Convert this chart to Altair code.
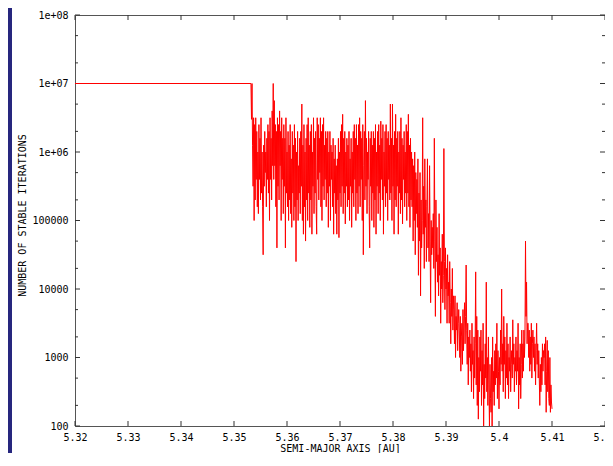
import altair as alt
import pandas as pd

# ---- data ----
# flat start (stable for the whole run) and the first drop
flat_a = [5.32, 5.3532, 5.3533, 5.3534]
flat_n = [1e7, 1e7, 3e6, 1e7]

# noisy part: semi-major axis grid 5.3535 .. 5.4100, step 0.0001
noisy_a_start = 5.3535
noisy_a_step = 0.0001
# log10(number of stable iterations), one row per 0.001 AU
log_n_rows = [
    [6.1, 5.5, 6.5, 5.0, 6.4, 5.3, 6.5, 5.6, 6.3, 5.2],
    [6.0, 5.1, 6.4, 5.6, 6.2, 5.3, 6.5, 5.4, 6.0, 5.2],
    [4.5, 6.1, 5.5, 6.3, 5.7, 6.0, 5.2, 6.2, 5.6, 6.4],
    [5.4, 6.3, 5.0, 6.5, 5.6, 6.2, 5.3, 6.6, 5.8, 7.0],
    [5.6, 6.75, 5.8, 6.4, 5.2, 6.3, 4.6, 6.5, 5.5, 6.4],
    [5.3, 6.6, 5.8, 6.3, 5.0, 6.5, 5.6, 6.2, 5.1, 6.4],
    [5.5, 6.2, 4.6, 6.5, 5.4, 6.0, 5.2, 6.3, 5.0, 6.1],
    [5.3, 6.4, 5.1, 5.9, 4.9, 6.3, 5.4, 6.1, 5.0, 6.4],
    [5.2, 6.2, 4.4, 6.0, 5.3, 6.3, 5.0, 5.8, 5.4, 6.2],
    [5.1, 6.3, 5.5, 6.7, 5.0, 6.1, 4.8, 6.4, 5.2, 6.0],
    [4.7, 6.2, 5.3, 6.4, 5.0, 6.5, 5.4, 6.1, 4.9, 6.3],
    [5.3, 6.4, 4.8, 6.0, 5.5, 6.5, 5.1, 6.2, 5.4, 6.3],
    [5.2, 4.8, 6.5, 5.6, 6.4, 5.3, 6.2, 5.7, 6.5, 5.2],
    [6.3, 5.0, 6.4, 5.5, 6.5, 5.3, 6.1, 5.6, 6.3, 5.2],
    [6.2, 5.4, 6.3, 4.9, 6.0, 5.5, 6.3, 5.0, 6.1, 5.6],
    [6.0, 5.2, 6.2, 4.8, 5.9, 5.4, 6.1, 5.1, 5.8, 4.8],
    [5.9, 5.3, 6.2, 4.75, 6.0, 5.4, 6.3, 5.2, 6.4, 5.5],
    [6.55, 5.1, 6.2, 5.4, 6.3, 4.95, 6.0, 5.5, 6.2, 5.2],
    [6.1, 5.3, 6.3, 5.0, 5.9, 5.5, 6.2, 4.9, 6.0, 5.4],
    [6.3, 5.2, 6.4, 5.6, 6.2, 5.0, 6.4, 5.4, 6.1, 5.1],
    [6.4, 5.5, 6.5, 5.2, 6.3, 5.6, 6.2, 5.0, 6.4, 4.5],
    [5.8, 6.3, 5.3, 6.75, 5.5, 6.2, 5.1, 6.0, 5.6, 6.3],
    [5.2, 4.6, 6.2, 5.5, 6.3, 5.0, 6.1, 5.4, 6.3, 4.9],
    [6.2, 5.3, 6.4, 4.8, 6.0, 5.5, 6.3, 5.1, 6.4, 5.4],
    [6.1, 5.0, 6.45, 5.6, 6.2, 5.3, 6.4, 4.8, 6.0, 5.5],
    [6.3, 5.2, 6.4, 5.4, 6.2, 5.0, 6.3, 5.6, 6.1, 5.3],
    [6.7, 5.4, 6.2, 5.0, 6.7, 5.5, 6.1, 4.8, 6.3, 5.3],
    [6.55, 5.2, 6.2, 5.5, 6.3, 4.8, 6.0, 5.4, 6.3, 5.1],
    [6.5, 5.3, 6.2, 4.95, 6.1, 5.6, 6.3, 5.2, 6.0, 5.4],
    [6.4, 5.0, 6.3, 5.4, 6.55, 5.2, 6.1, 4.9, 6.2, 5.3],
    [6.0, 5.2, 5.9, 4.7, 5.8, 5.0, 6.0, 4.5, 5.7, 5.1],
    [5.6, 4.9, 5.9, 4.2, 5.4, 4.7, 5.7, 3.9, 5.3, 4.6],
    [5.0, 6.5, 4.8, 5.5, 4.3, 5.9, 4.9, 5.3, 4.4, 5.2],
    [5.9, 4.6, 5.1, 4.4, 5.8, 4.7, 3.8, 5.0, 4.5, 4.9],
    [4.6, 5.1, 4.3, 6.2, 4.7, 3.6, 5.3, 4.4, 4.9, 4.1],
    [4.5, 3.9, 5.1, 4.2, 4.6, 3.5, 4.4, 4.0, 4.8, 3.8],
    [4.2, 6.05, 4.4, 3.7, 4.6, 4.0, 4.3, 3.5, 4.5, 3.9],
    [4.1, 3.5, 4.4, 3.8, 3.2, 4.0, 3.6, 4.3, 3.4, 3.9],
    [3.7, 3.2, 3.9, 3.0, 3.6, 3.4, 3.8, 3.1, 3.5, 3.7],
    [3.4, 3.0, 3.6, 2.8, 3.3, 3.5, 2.9, 3.7, 3.1, 3.5],
    [3.8, 3.2, 3.6, 4.35, 3.4, 2.9, 3.5, 2.6, 3.3, 3.0],
    [3.4, 2.8, 3.2, 2.5, 3.5, 2.9, 3.1, 2.4, 3.3, 2.7],
    [3.2, 4.25, 2.6, 3.6, 2.3, 3.4, 2.1, 3.0, 2.5, 3.3],
    [2.8, 3.4, 2.3, 3.1, 2.6, 3.5, 2.0, 2.9, 2.4, 3.2],
    [2.7, 4.1, 2.5, 3.0, 2.3, 3.3, 2.6, 2.0, 2.9, 2.4],
    [2.2, 3.0, 2.0, 3.3, 2.5, 2.8, 2.3, 3.1, 2.6, 3.2],
    [2.7, 3.5, 2.4, 3.1, 2.8, 2.25, 3.0, 2.6, 3.4, 2.9],
    [4.0, 2.8, 3.2, 2.5, 3.6, 2.9, 3.3, 2.4, 3.1, 2.7],
    [3.5, 2.6, 3.2, 2.4, 3.0, 2.8, 3.3, 2.5, 2.9, 3.1],
    [2.7, 3.55, 2.9, 3.2, 2.5, 3.0, 2.8, 3.3, 2.6, 3.1],
    [2.8, 3.5, 2.25, 3.0, 2.6, 3.2, 2.4, 2.9, 3.4, 2.7],
    [3.2, 2.8, 3.4, 3.0, 3.3, 4.7, 3.6, 4.1, 3.2, 3.5],
    [3.5, 3.0, 3.4, 2.8, 3.3, 2.9, 3.5, 2.7, 3.2, 3.4],
    [3.0, 3.3, 2.8, 3.2, 2.6, 3.1, 3.5, 2.9, 3.2, 2.7],
    [3.1, 2.7, 2.3, 2.9, 2.5, 3.0, 2.6, 3.2, 2.8, 3.1],
    [3.0, 3.2, 2.6, 3.3, 2.2, 2.8, 3.25, 2.5, 3.1, 2.4],
    [2.3, 3.0, 2.2, 2.6, 2.35, 2.25],
]

x_tick_values = [5.32, 5.33, 5.34, 5.35, 5.36, 5.37, 5.38, 5.39, 5.40, 5.41, 5.42]
y_tick_values = [1e2, 1e3, 1e4, 1e5, 1e6, 1e7, 1e8]
y_tick_labels = ["100", "1000", "10000", "100000", "1e+06", "1e+07", "1e+08"]
y_minor_values = [2e2, 5e2, 2e3, 5e3, 2e4, 5e4, 2e5, 5e5, 2e6, 5e6, 2e7, 5e7]

# ---- build table ----
log_n = [v for row in log_n_rows for v in row]
a_vals = list(flat_a) + [round(noisy_a_start + i * noisy_a_step, 4) for i in range(len(log_n))]
n_vals = list(flat_n) + [10 ** v for v in log_n]
df = pd.DataFrame({"a": a_vals, "n": n_vals})

W, H = 530, 411
FONT = "DejaVu Sans Mono"

xscale = alt.Scale(domain=[5.32, 5.42], nice=False, zero=False)
yscale = alt.Scale(type="log", domain=[100, 1e8], nice=False)

label_expr = "[" + ",".join("'%s'" % s for s in y_tick_labels) + "][round(log(datum.value)/LN10) - 2]"

x_axis = alt.Axis(values=x_tick_values, format="~g", title="SEMI-MAJOR AXIS [AU]",
                  domain=False, ticks=False, tickSize=0, grid=False, labelFlush=False,
                  labelPadding=6, labelFont=FONT, labelFontSize=10, labelColor="#000",
                  titleFont=FONT, titleFontSize=10, titleFontWeight="normal", titleColor="#000",
                  titleY=17, titleBaseline="top")
y_axis = alt.Axis(values=y_tick_values, labelExpr=label_expr, title="NUMBER OF STABLE ITERATIONS",
                  domain=False, ticks=False, tickSize=0, grid=False, labelFlush=False,
                  labelPadding=7, labelFont=FONT, labelFontSize=10, labelColor="#000",
                  titleFont=FONT, titleFontSize=10, titleFontWeight="normal", titleColor="#000",
                  titleX=-53, titleY=200, titleAngle=270, titleAlign="center",
                  titleBaseline="middle")

line = alt.Chart(df).mark_line(color="#ff0000", strokeWidth=1, clip=True).encode(
    x=alt.X("a:Q", scale=xscale, axis=x_axis),
    y=alt.Y("n:Q", scale=yscale, axis=y_axis),
)

tick_color = "#333333"
ymaj_df = pd.DataFrame({"n": y_tick_values})
ymin_df = pd.DataFrame({"n": y_minor_values})
x_df = pd.DataFrame({"a": x_tick_values})

def yrule(frame, x0, x1):
    return alt.Chart(frame).mark_rule(color=tick_color, strokeWidth=1).encode(
        y=alt.Y("n:Q", scale=yscale, axis=y_axis), x=alt.value(x0), x2=alt.value(x1))

def xrule(y0, y1):
    return alt.Chart(x_df).mark_rule(color=tick_color, strokeWidth=1).encode(
        x=alt.X("a:Q", scale=xscale, axis=x_axis), y=alt.value(y0), y2=alt.value(y1))

left_major = yrule(ymaj_df, 0, 5)
right_major = yrule(ymaj_df, W - 5, W)
left_minor = yrule(ymin_df, 0, 3)
right_minor = yrule(ymin_df, W - 3, W)
bottom_ticks = xrule(H - 5, H)
top_ticks = xrule(0, 5)

strip = alt.Chart(pd.DataFrame({"k": [0]})).mark_rect(color="#26267e", clip=False).encode(
    x=alt.value(-67), x2=alt.value(-63), y=alt.value(-8), y2=alt.value(H + 40))

chart = alt.layer(strip, left_major, right_major, left_minor, right_minor,
                  bottom_ticks, top_ticks, line).properties(
    width=W, height=H,
    padding={"left": 67, "top": 7, "right": 0, "bottom": 27},
    autosize=alt.AutoSizeParams(type="none"),
    background="white",
).configure_view(stroke="#555555", strokeWidth=1)

chart.save("out.html", embed_options={"renderer": "svg", "actions": False})
